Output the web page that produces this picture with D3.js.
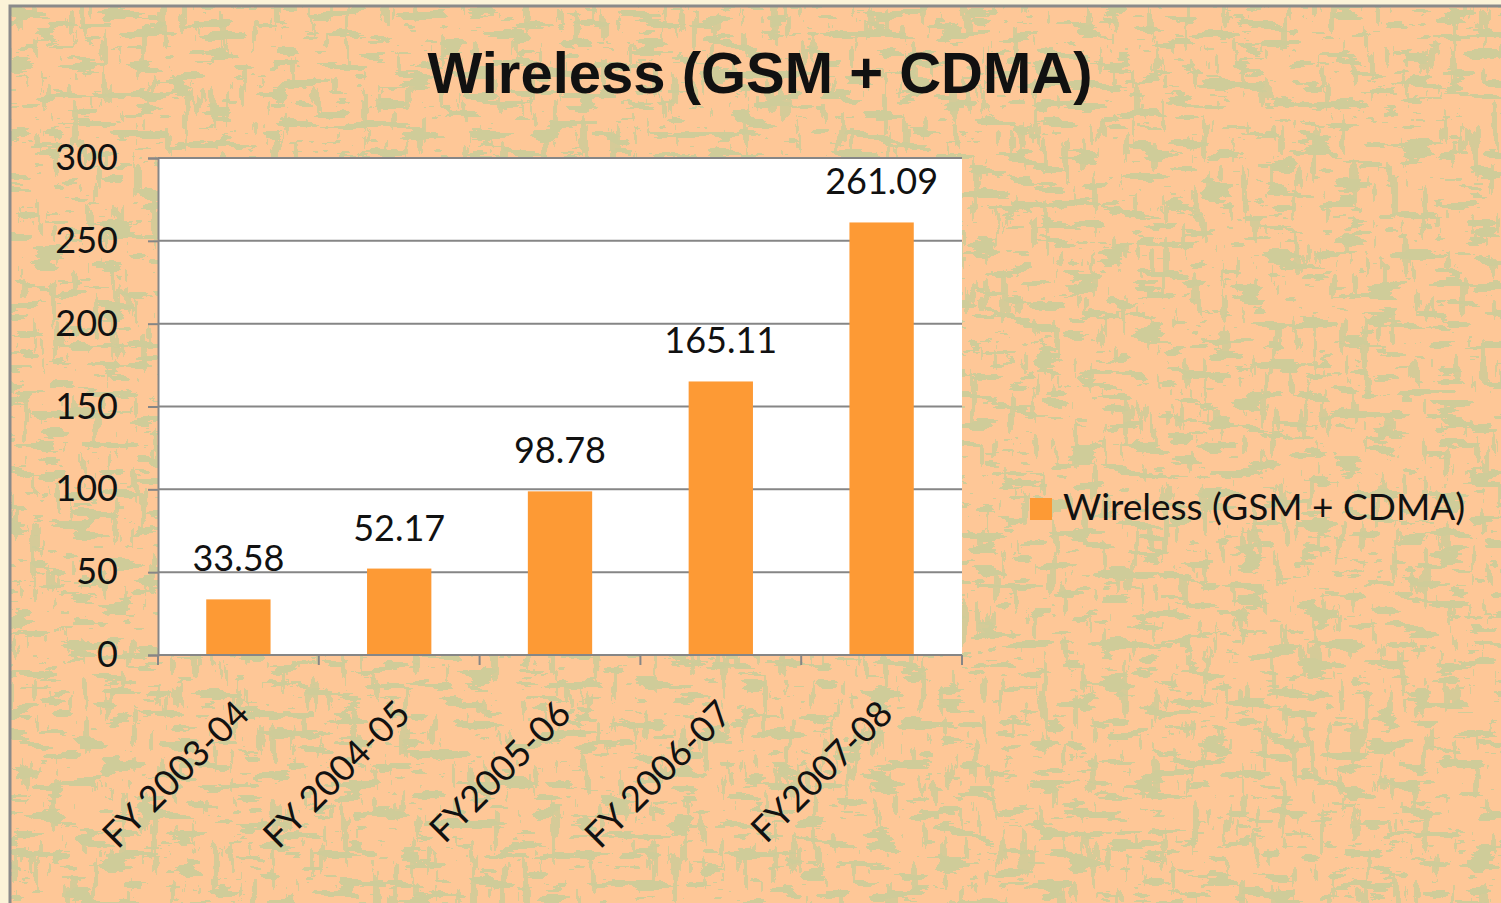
<!DOCTYPE html>
<html>
<head>
<meta charset="utf-8">
<script src="https://cdn.jsdelivr.net/npm/d3@7"></script>
<style>
  html, body { margin: 0; padding: 0; background: #fbf3d8; }
  svg { display: block; }
  text { font-family: Lato, "Open Sans", sans-serif; fill: #111; }
</style>
</head>
<body>
<div id="chart"></div>
<script>
// values
var categories = ["FY 2003-04", "FY 2004-05", "FY2005-06", "FY 2006-07", "FY2007-08"];
var values = [33.58, 52.17, 98.78, 165.11, 261.09];
var yTicks = [0, 50, 100, 150, 200, 250, 300];
var seriesName = "Wireless (GSM + CDMA)";
var chartTitle = "Wireless (GSM + CDMA)";

var W = 1501, H = 903;
var plot = {left: 158, right: 962, top: 158, bottom: 655};

var svg = d3.select("#chart").append("svg")
	.attr("width", W).attr("height", H);

// background texture (peach with sage blotches)
var defs = svg.append("defs");
function texture(id, fx, fy, seed, cut) {
	var f = defs.append("filter").attr("id", id)
		.attr("x", 0).attr("y", 0).attr("width", "100%").attr("height", "100%")
		.attr("color-interpolation-filters", "sRGB");
	f.append("feTurbulence").attr("type", "fractalNoise")
		.attr("baseFrequency", fx + " " + fy).attr("numOctaves", 4).attr("seed", seed);
	f.append("feColorMatrix").attr("type", "matrix")
		.attr("values", "0 0 0 0 0.81  0 0 0 0 0.80  0 0 0 0 0.60  1 0 0 0 0");
	var tbl = [];
	for (var i = 0; i < 20; i++) tbl.push(i < cut ? 0 : 1);
	f.append("feComponentTransfer").append("feFuncA")
		.attr("type", "discrete").attr("tableValues", tbl.join(" "));
}
texture("texH", 0.03, 0.1, 3, 12);
texture("texV", 0.1, 0.025, 7, 13);

svg.append("rect").attr("x", 10).attr("y", 6).attr("width", W - 10).attr("height", H - 6)
	.attr("fill", "#fec797");
svg.append("rect").attr("x", 10).attr("y", 6).attr("width", W - 10).attr("height", H - 6)
	.attr("filter", "url(#texH)");
svg.append("rect").attr("x", 10).attr("y", 6).attr("width", W - 10).attr("height", H - 6)
	.attr("filter", "url(#texV)").attr("opacity", 0.85);
// frame
svg.append("path").attr("d", "M10," + H + "V6H" + W)
	.attr("fill", "none").attr("stroke", "#8a8a8a").attr("stroke-width", 3);

// scales
var x = d3.scaleBand().domain(categories).range([plot.left, plot.right]);
var y = d3.scaleLinear().domain([0, 300]).range([plot.bottom, plot.top]);
var barW = x.bandwidth() * 0.4;

// plot area
svg.append("rect")
	.attr("x", plot.left).attr("y", plot.top)
	.attr("width", plot.right - plot.left).attr("height", plot.bottom - plot.top)
	.attr("fill", "#fff");

// gridlines
svg.append("g").selectAll("line").data(yTicks).enter().append("line")
	.attr("x1", plot.left).attr("x2", plot.right)
	.attr("y1", function (d) { return y(d); }).attr("y2", function (d) { return y(d); })
	.attr("stroke", "#868686").attr("stroke-width", 2);

// y axis
var yAxis = svg.append("g").attr("transform", "translate(" + plot.left + ",0)")
	.call(d3.axisLeft(y).tickValues(yTicks).tickSize(10).tickPadding(30));
yAxis.select(".domain").attr("stroke", "#868686").attr("stroke-width", 2);
yAxis.selectAll(".tick line").attr("stroke", "#868686").attr("stroke-width", 2);
yAxis.selectAll("text").attr("font-size", 36).style("font-family", "Lato").style("fill", "#111");

// bars
svg.append("g").selectAll("rect").data(values).enter().append("rect")
	.attr("x", function (d, i) { return x(categories[i]) + (x.bandwidth() - barW) / 2; })
	.attr("y", function (d) { return y(d); })
	.attr("width", barW)
	.attr("height", function (d) { return y(0) - y(d); })
	.attr("fill", "#fd9a35");

// value labels
svg.append("g").selectAll("text").data(values).enter().append("text")
	.attr("x", function (d, i) { return x(categories[i]) + x.bandwidth() / 2; })
	.attr("y", function (d) { return y(d) - 28; })
	.attr("text-anchor", "middle").attr("font-size", 36)
	.text(function (d) { return d.toFixed(2); });

// x axis line and ticks at category boundaries
svg.append("line").attr("x1", plot.left).attr("x2", plot.right)
	.attr("y1", plot.bottom).attr("y2", plot.bottom)
	.attr("stroke", "#868686").attr("stroke-width", 2);
var bounds = categories.map(function (c) { return x(c); }).concat([plot.right]);
svg.append("g").selectAll("line").data(bounds).enter().append("line")
	.attr("x1", function (d) { return d; }).attr("x2", function (d) { return d; })
	.attr("y1", plot.bottom).attr("y2", plot.bottom + 10)
	.attr("stroke", "#868686").attr("stroke-width", 2);

// category labels, rotated
svg.append("g").selectAll("text").data(categories).enter().append("text")
	.attr("transform", function (d) {
		return "translate(" + (x(d) + x.bandwidth() / 2 - 6) + "," + (plot.bottom + 42) + ") rotate(-45)";
	})
	.attr("text-anchor", "end").attr("dy", "0.75em").attr("font-size", 36)
	.text(function (d) { return d; });

// title
svg.append("text").attr("x", 760).attr("y", 93)
	.attr("text-anchor", "middle")
	.style("font-family", "'Liberation Sans', Arial, sans-serif")
	.style("font-weight", "bold").style("font-size", "58px")
	.text(chartTitle);

// legend
var lg = svg.append("g").attr("transform", "translate(1030,498)");
lg.append("rect").attr("width", 22).attr("height", 22).attr("fill", "#fd9a35");
lg.append("text").attr("x", 33).attr("y", 22).attr("font-size", 37).text(seriesName);
</script>
</body>
</html>
